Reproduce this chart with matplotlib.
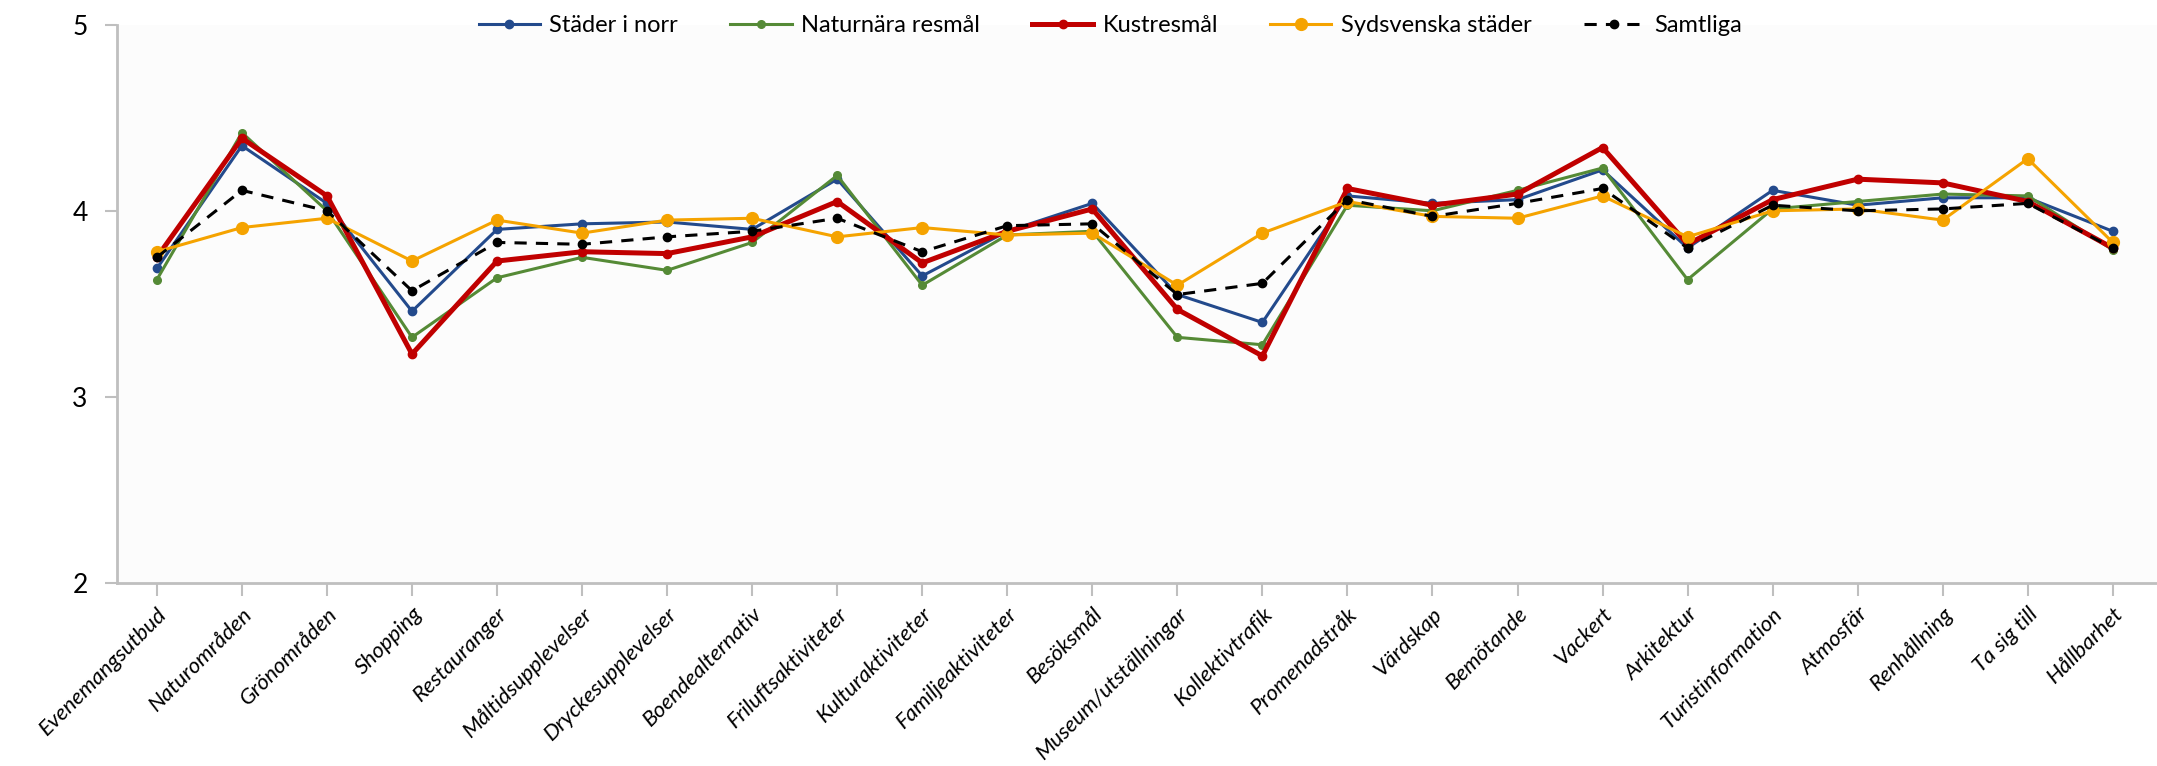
import matplotlib
matplotlib.use("Agg")
import matplotlib.pyplot as plt

plt.rcParams['font.family'] = ['Lato', 'DejaVu Sans']

# kategorier
kategorier = ["Evenemangsutbud", "Naturområden", "Grönområden", "Shopping",
              "Restauranger", "Måltidsupplevelser", "Dryckesupplevelser",
              "Boendealternativ", "Friluftsaktiviteter", "Kulturaktiviteter",
              "Familjeaktiviteter", "Besöksmål", "Museum/utställningar",
              "Kollektivtrafik", "Promenadstråk", "Värdskap", "Bemötande",
              "Vackert", "Arkitektur", "Turistinformation", "Atmosfär",
              "Renhållning", "Ta sig till", "Hållbarhet"]

stader_i_norr = [3.69, 4.35, 4.04, 3.46, 3.90, 3.93, 3.94, 3.90, 4.17, 3.65,
                 3.89, 4.04, 3.55, 3.40, 4.08, 4.04, 4.06, 4.22, 3.80, 4.11,
                 4.03, 4.07, 4.07, 3.89]
naturnara = [3.63, 4.42, 4.00, 3.32, 3.64, 3.75, 3.68, 3.83, 4.19, 3.60,
             3.87, 3.89, 3.32, 3.28, 4.03, 4.00, 4.11, 4.23, 3.63, 4.01,
             4.05, 4.09, 4.08, 3.79]
kustresmal = [3.75, 4.39, 4.08, 3.23, 3.73, 3.78, 3.77, 3.86, 4.05, 3.72,
              3.89, 4.01, 3.47, 3.22, 4.12, 4.03, 4.09, 4.34, 3.82, 4.06,
              4.17, 4.15, 4.05, 3.80]
sydsvenska = [3.78, 3.91, 3.96, 3.73, 3.95, 3.88, 3.95, 3.96, 3.86, 3.91,
              3.87, 3.88, 3.60, 3.88, 4.05, 3.97, 3.96, 4.08, 3.86, 4.00,
              4.01, 3.95, 4.28, 3.83]
samtliga = [3.75, 4.11, 4.00, 3.57, 3.83, 3.82, 3.86, 3.89, 3.96, 3.78,
            3.92, 3.93, 3.55, 3.61, 4.06, 3.97, 4.04, 4.12, 3.80, 4.03,
            4.00, 4.01, 4.04, 3.80]

fig = plt.figure(figsize=(21.57, 7.66), dpi=100)
ax = fig.add_axes([0.0542, 0.239, 0.9458, 0.7287])
ax.set_facecolor('#FCFCFC')

x = range(len(kategorier))
ax.plot(x, stader_i_norr, color='#234A8C', lw=2.2, marker='o', ms=6, label='Städer i norr')
ax.plot(x, naturnara, color='#558A36', lw=2.2, marker='o', ms=5.5, label='Naturnära resmål')
ax.plot(x, kustresmal, color='#C00000', lw=3.6, marker='o', ms=6, label='Kustresmål')
ax.plot(x, sydsvenska, color='#F5A300', lw=2.2, marker='o', ms=8.5, label='Sydsvenska städer')
ax.plot(x, samtliga, color='black', lw=2.2, ls=(0, (4, 3)), marker='o', ms=6, label='Samtliga')

ax.set_xlim(-0.47, 23.52)
ax.set_ylim(2, 5)
ax.set_yticks([2, 3, 4, 5])
ax.set_xticks(list(x))
ax.set_xticklabels(kategorier, rotation=45, ha='right', rotation_mode='anchor',
                   fontsize=16, style='italic')
ax.tick_params(axis='y', labelsize=19, length=9, width=1.5, color='#BFBFBF', pad=12)
ax.tick_params(axis='x', length=9, width=1.5, color='#BFBFBF', pad=6)

for s in ['top', 'right']:
    ax.spines[s].set_visible(False)
for s in ['left', 'bottom']:
    ax.spines[s].set_color('#BFBFBF')
    ax.spines[s].set_linewidth(2)

ax.legend(loc='upper center', bbox_to_anchor=(0.487, 1.055), ncol=5, frameon=False,
          fontsize=17, handlelength=2.6, handletextpad=0.4, columnspacing=2.2)

fig.savefig('out.png', dpi=100, facecolor='white')
